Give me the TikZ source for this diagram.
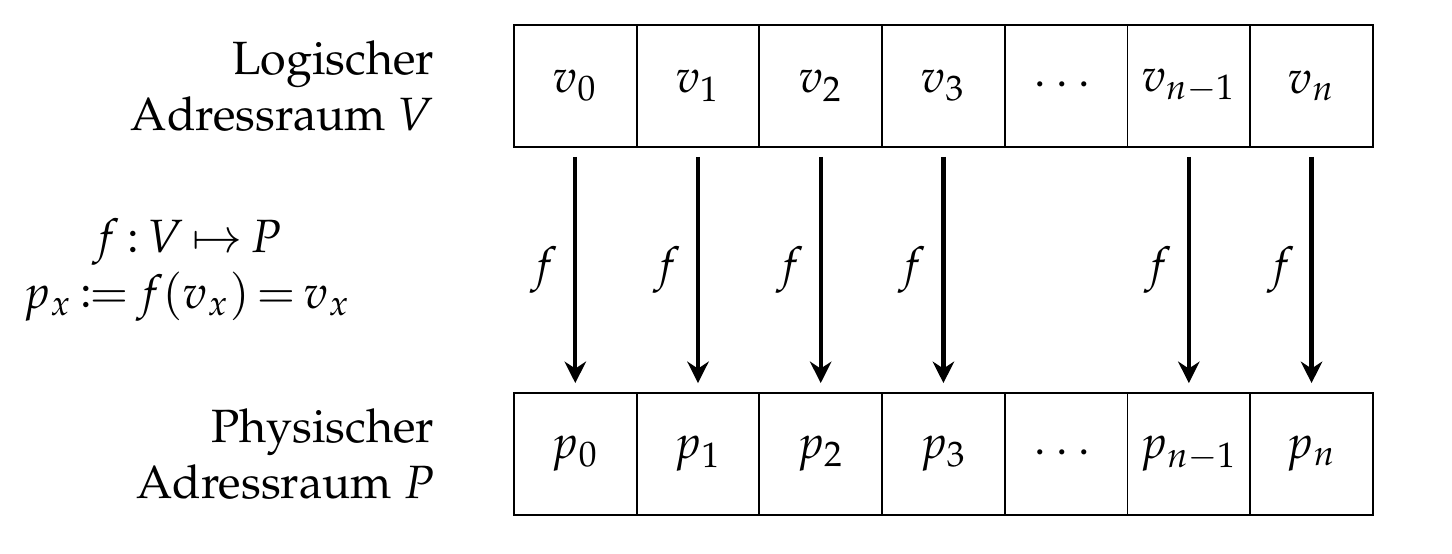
\documentclass[tikz,border=0pt]{standalone}
\usepackage[T1]{fontenc}
\usepackage{amsmath,amssymb}
\usepackage{mathtools}
\usepackage{mathpazo}
\usepackage{tikz}
\usetikzlibrary{positioning, calc, arrows.meta}

\newcommand{\tightmath}{\thickmuskip=3mu\relax\medmuskip=2mu\relax}

\tikzset{
  cell/.style={draw, minimum width=26.3pt, minimum height=26.2pt, inner sep=0pt, outer sep=0pt},
  maparrow/.style={-{Stealth[length=4.6pt,width=4.6pt]}, line width=0.9pt, shorten <=2.1pt, shorten >=2.1pt},
  spacelabel/.style={align=right, inner sep=0pt}
}

\begin{document}
\begin{tikzpicture}

    \useasboundingbox (0,0) rectangle (311.2pt,-118.7pt);

    % Logical address space (top row)
    \node[cell] (v0) at (123.3pt,-18.4pt) {$v_0$};
    \node[cell, right=0pt of v0] (v1) {$v_1$};
    \node[cell, right=0pt of v1] (v2) {$v_2$};
    \node[cell, right=0pt of v2] (v3) {$v_3$};
    \node[cell, right=0pt of v3] (vdots) {$\cdots$};
    \node[cell, right=0pt of vdots] (vm) {$v_{n-1}$};
    \node[cell, right=0pt of vm] (vn) {$v_n$};

    % Physical address space (bottom row)
    \node[cell, below=52.7pt of v0] (p0) {$p_0$};
    \node[cell, right=0pt of p0] (p1) {$p_1$};
    \node[cell, right=0pt of p1] (p2) {$p_2$};
    \node[cell, right=0pt of p2] (p3) {$p_3$};
    \node[cell, right=0pt of p3] (pdots) {$\cdots$};
    \node[cell, right=0pt of pdots] (pm) {$p_{n-1}$};
    \node[cell, right=0pt of pm] (pn) {$p_n$};

    % Row labels
    \node[spacelabel, left=16.9pt of v0] (vlabel) {Logischer\\Adressraum $V$};
    \node[spacelabel, left=16.9pt of p0] (plabel) {Physischer\\Adressraum $P$};

    % Mapping definition
    \node[align=center, font=\tightmath] (mapdef) at (40.1pt,-57.9pt)
        {$f : V \mapsto P$\\$p_x \coloneqq f(v_x) = v_x$};

    % Mapping arrows
    \draw[maparrow] (v0) -- (p0) node[midway, left] {$f$};
    \draw[maparrow] (v1) -- (p1) node[midway, left] {$f$};
    \draw[maparrow] (v2) -- (p2) node[midway, left] {$f$};
    \draw[maparrow] (v3) -- (p3) node[midway, left] {$f$};
    \draw[maparrow] (vm) -- (pm) node[midway, left] {$f$};
    \draw[maparrow] (vn) -- (pn) node[midway, left] {$f$};

\end{tikzpicture}
\end{document}
